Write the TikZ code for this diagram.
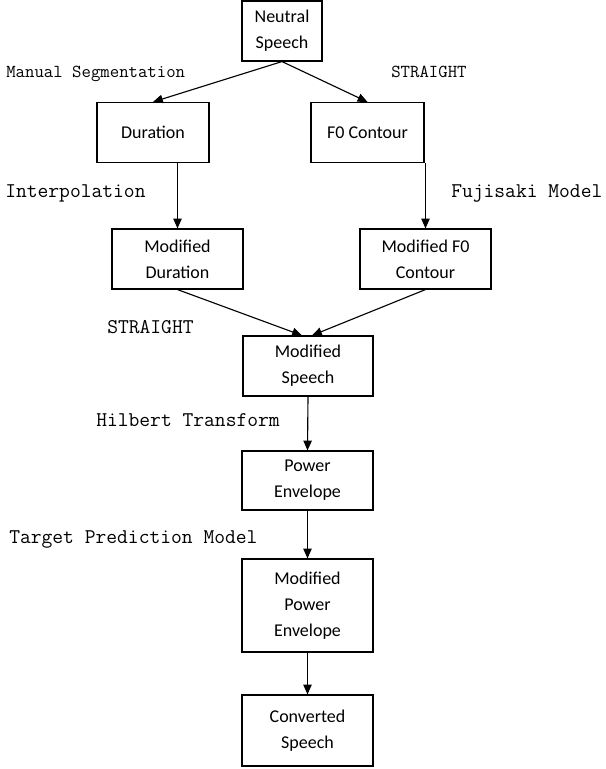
\documentclass[tikz,border=0pt]{standalone}
\usepackage{fontspec}
\setmainfont{Carlito}
\usetikzlibrary{arrows.meta}
\tikzset{
  blok/.style={draw=black,line width=0.8pt,shape=rectangle,align=center,inner sep=0pt,
    font=\fontsize{12.8}{18.4}\selectfont,minimum height=1.5cm},
  opis/.style={anchor=base west,inner sep=0pt,font=\ttfamily\fontsize{14.9}{18}\selectfont},
  opismaly/.style={opis,font=\ttfamily\fontsize{13}{16}\selectfont},
  strz/.style={line width=0.8pt,-{Triangle[length=7pt,width=6pt]}}
}
\begin{document}
\begin{tikzpicture}[x=0.025cm,y=-0.025cm]
\useasboundingbox (0,0) rectangle (605,769);
\node[blok,minimum width=2cm] (neutral) at (282,31) {Neutral\\Speech};
\node[blok,minimum width=2.8cm] (dur) at (153,132.5) {Duration};
\node[blok,minimum width=2.825cm] (f0) at (367.5,132.5) {F0 Contour};
\node[blok,minimum width=3.275cm] (mdur) at (177.5,259) {Modified\\Duration};
\node[blok,minimum width=3.275cm] (mf0) at (425.5,259) {Modified F0\\Contour};
\node[blok,minimum width=3.25cm] (mspeech) at (308,366) {Modified\\Speech};
\node[blok,minimum width=3.275cm,minimum height=1.475cm] (power) at (307.5,480.5) {Power\\Envelope};
\node[blok,minimum width=3.275cm,minimum height=2.325cm] (mpower) at (307.5,605.5) {Modified\\Power\\Envelope};
\node[blok,minimum width=3.275cm,minimum height=1.775cm] (conv) at (307.5,730.5) {Converted\\Speech};

\node[opismaly] (lmanual) at (6,77) {Manual Segmentation};
\node[opismaly] (lstraight) at (391,77) {STRAIGHT};
\node[opis] (linterp) at (5,197) {Interpolation};
\node[opis] (lfujisaki) at (451,197) {Fujisaki Model};
\node[opis] (lsynth) at (107,333) {STRAIGHT};
\node[opis] (lhilbert) at (96,426) {Hilbert Transform};
\node[opis] (ltarget) at (9,543) {Target Prediction Model};

\draw[strz] (neutral.south) -- (dur.north);
\draw[strz] (neutral.south) -- (f0.north);
\draw[strz] (dur.south -| mdur.north) -- (mdur.north);
\draw[strz] (f0.south -| mf0.north) -- (mf0.north);
\draw[strz] (mdur.south) -- ([xshift=-0.15cm]mspeech.north);
\draw[strz] (mf0.south) -- ([xshift=0.1cm]mspeech.north);
\draw[strz] (mspeech.south) -- (power.north);
\draw[strz] (power.south) -- (mpower.north);
\draw[strz] (mpower.south) -- (conv.north);
\end{tikzpicture}
\end{document}
